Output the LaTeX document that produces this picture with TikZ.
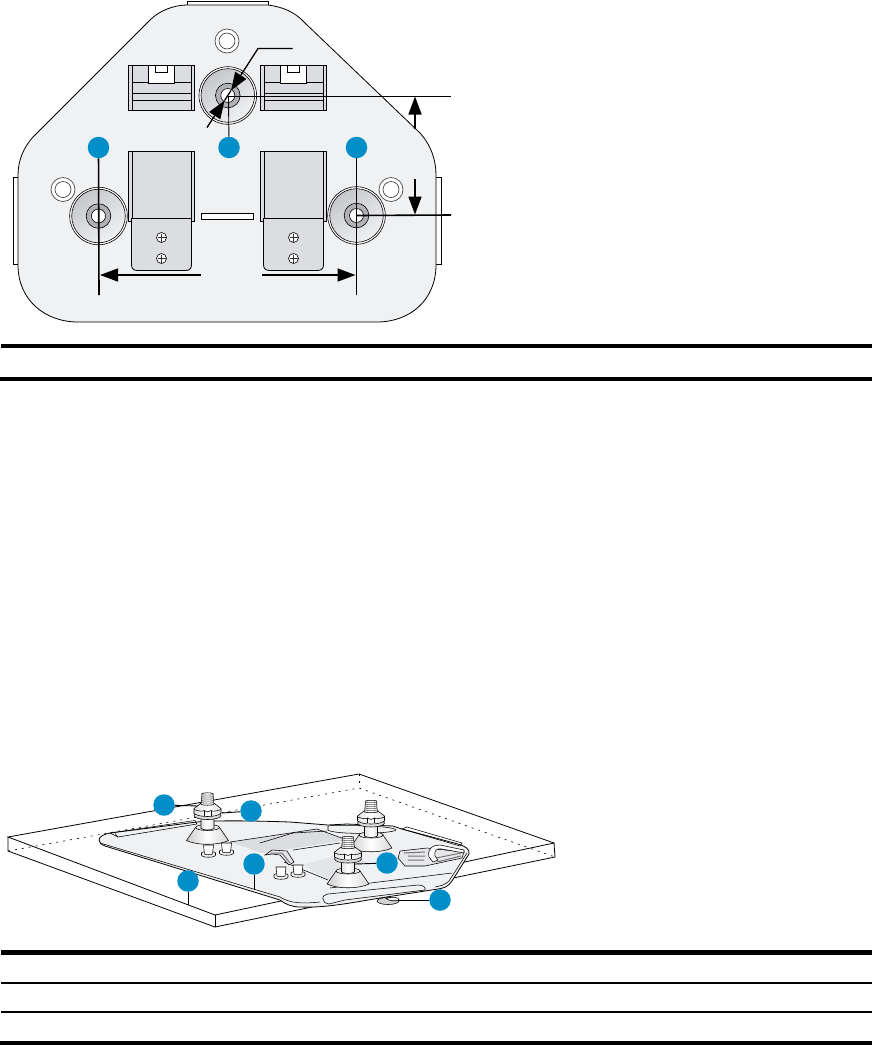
\documentclass[tikz,border=0pt]{standalone}
\usetikzlibrary{arrows.meta,calc}
\definecolor{plategray}{HTML}{F0F1F3}
\definecolor{partgray}{HTML}{DCDDE1}
\definecolor{callblue}{HTML}{008FC9}
\definecolor{midgray}{HTML}{B0B2B5}
\tikzset{
  callout/.style={circle,fill=callblue,minimum size=21.5pt,inner sep=0pt},
  outline/.style={draw=black,line width=0.8pt},
  fineline/.style={draw=black,line width=0.55pt},
  leader/.style={draw=black,line width=0.9pt},
  dimline/.style={draw=black,line width=0.9pt},
  dimthick/.style={draw=black,line width=1.6pt},
  headed/.style={-{Triangle[length=18pt,width=13pt]}},
  dimarrow/.style={draw=black,line width=1.6pt,headed},
  rulethick/.style={draw=black,line width=4pt},
  rulethin/.style={draw=black,line width=1.1pt},
  dotline/.style={draw=black,line width=0.6pt,dash pattern=on 2pt off 5pt},
  shadeA/.style={left color=black!20,right color=black!16,middle color=white},
  shadeB/.style={left color=black!12,right color=black!12,middle color=white},
  ring/.pic={
    \fill[white,draw=black!70,line width=0.7pt] (0,0) circle (12);
    \draw[black!80,line width=0.6pt] (0,0) circle (8);
  },
  washer/.pic={
    \draw[line width=0.6pt,fill=white] (0,0) circle (28.8);
    \draw[line width=0.6pt,shading=axis,top color=partgray!90!black,bottom color=plategray,shading angle=35] (0,0) circle (26.8);
    \draw[line width=0.6pt,fill=midgray] (0,0) circle (12.3);
    \draw[line width=0.6pt,fill=white] (0,0) circle (7);
  },
  screw/.pic={
    \draw[line width=0.6pt,fill=white] (0,0) circle (5);
    \draw[line width=0.6pt,black!80] (-4,0) -- (4,0) (0,-4) -- (0,4);
  },
  clip/.pic={
    \draw[outline,fill=partgray] (0,0) rectangle (66,45);
    \draw[outline] (3.5,0) -- (3.5,45) (62.5,0) -- (62.5,45);
    \draw[outline,fill=white] (20,0) rectangle (46,18);
    \draw[outline] (27,0) -- (27,7) -- (39,7) -- (39,0);
    \draw[outline] (3.5,17) -- (20,17) (46,17) -- (62.5,17);
    \draw[outline] (3.5,28) -- (62.5,28) (3.5,35) -- (62.5,35);
  },
  bracket/.pic={
    \draw[outline,fill=partgray] (0,0) rectangle (66,70);
    \draw[outline] (3.5,0) -- (3.5,70) (62.5,0) -- (62.5,70);
    \draw[outline,fill=partgray] (3,67) -- (63,67) -- (63,113)
      .. controls (63,117) and (61,119) .. (57,119) -- (9,119)
      .. controls (5,119) and (3,117) .. (3,113) -- cycle;
    \pic at (33,86) {screw};
    \pic at (33,107) {screw};
  },
  mount/.pic={
    % origin: centre of cone base
    \draw[fineline,shadeA] (-21,0) -- (-12,-13) -- (12,-13) -- (21,0)
      .. controls (11,5) and (-11,5) .. (-21,0) -- cycle;
    \draw[fineline,fill=black!8] (0,-13) ellipse (12 and 3);
    \draw[fineline,shadeB] (-6.5,-12) -- (-6.5,-24) -- (6.5,-24) -- (6.5,-12) .. controls (3,-10) and (-3,-10) .. (-6.5,-12) -- cycle;
    \draw[fineline,fill=black!14] (0,-25) ellipse (13.5 and 4);
    \draw[fineline,shadeB] (-13.5,-32) -- (-13.5,-27)
      .. controls (-8,-23) and (8,-23) .. (13.5,-27) -- (13.5,-32)
      -- (7,-37) -- (-7,-37) -- cycle;
    \draw[fineline] (-13.5,-31) .. controls (-8,-29) and (-5,-29) .. (-3.5,-30)
      .. controls (-1,-28) and (1,-28) .. (3.5,-30) .. controls (5,-29) and (8,-29) .. (13.5,-31);
    \draw[fineline] (-3.5,-30) -- (-3.5,-25) (3.5,-30) -- (3.5,-25);
    \draw[fineline,shadeB] (-6.5,-36) -- (-6,-40) -- (-5.5,-47) .. controls (-3,-48) and (3,-48) .. (5.5,-47)
       -- (6,-40) -- (6.5,-36) .. controls (3,-35) and (-3,-35) .. (-6.5,-36) -- cycle;
    \foreach \ty in {-38,-40,-42,-44,-46}
      \draw[line width=0.55pt,black!65] (-6,\ty) .. controls (-3,\ty+0.9) and (3,\ty+0.9) .. (6,\ty);
  },
  stud/.pic={
    \draw[fineline,fill=plategray] (-7,0) .. controls (-7,3) and (7,3) .. (7,0) -- (7,-2) .. controls (7,-4) and (-7,-4) .. (-7,-2) -- cycle;
    \draw[fineline,fill=white] (-4,-1) -- (-5,-10) -- (5,-10) -- (4,-1) .. controls (2,0) and (-2,0) .. (-4,-1) -- cycle;
  }
}
\begin{document}
\begin{tikzpicture}[x=1pt,y=-1pt]
\useasboundingbox (0,0) rectangle (872,1045);
% ---------- top plate
\draw[outline] (187,5) -- (187,1.3) -- (268,1.3) -- (268,5);
\draw[outline] (18,177) -- (13,177) -- (13,264) -- (18,264);
\draw[outline] (436,177) -- (441,177) -- (441,264) -- (436,264);
\draw[outline,fill=plategray] (187,5) -- (268,5) .. controls (283,7) and (295,12) .. (305,23)
  -- (420,133) .. controls (431,145) and (436,160) .. (436,175) -- (436,265)
  .. controls (436,300) and (410,322) .. (377,322) -- (78,322)
  .. controls (45,322) and (18,300) .. (18,265) -- (18,175)
  .. controls (18,160) and (24,147) .. (33,137) -- (150,20)
  .. controls (160,10) and (175,5) .. (187,5) -- cycle;
\pic at (227,41) {ring};
\pic at (63,189.5) {ring};
\pic at (391,189.5) {ring};
\pic at (128.5,65.5) {clip};
\pic at (260.5,65.5) {clip};
\pic at (128.5,151.5) {bracket};
\pic at (260.5,151.5) {bracket};
\draw[outline,fill=white] (201.5,213.5) rectangle (253.5,219.5);
\coordinate (holeT) at (227.8,95.5);
\coordinate (holeL) at (98.5,216);
\coordinate (holeR) at (356.5,215.5);
\pic at (holeT) {washer};
\pic at (holeL) {washer};
\pic at (holeR) {washer};
\node[callout] (cT1) at (98.5,147.5) {};
\node[callout] (cT2) at (229,147.5) {};
\node[callout] (cT3) at (356.5,147.5) {};
\coordinate (endL) at (99,295);
\coordinate (endR) at (356.5,295);
\coordinate (extT) at (451,96);
\coordinate (extR) at (451,215);
\draw[dimthick] (cT1) -- (endL);
\draw[dimline] (cT3) -- (endR);
\draw[dimline] (cT2) -- (228.5,96);
\draw[dimline] (228,96) -- (extT);
\draw[dimthick] (holeR) -- (extR);
\coordinate (dimLs) at (201,275);
\coordinate (dimLe) at (100,275);
\coordinate (dimRs) at (262,275);
\coordinate (dimRe) at (355.5,275);
\coordinate (upS) at (415,129);
\coordinate (upE) at (415,96.5);
\coordinate (dnS) at (415,179);
\coordinate (dnE) at (415,214.5);
\draw[dimarrow] (dimLs) -- (dimLe);
\draw[dimarrow] (dimRs) -- (dimRe);
\draw[dimarrow] (upS) -- (upE);
\draw[dimarrow] (dnS) -- (dnE);
\coordinate (diaA) at (292.5,48.5);
\coordinate (diaB) at (258,48.5);
\coordinate (diaC) at (207,127.5);
\coordinate (tipU) at ($(holeT)!6pt!(diaB)$);
\coordinate (tipL) at ($(holeT)!6pt!(diaC)$);
\draw[dimline,line width=1.3pt,headed] (diaA) -- (diaB) -- (tipU);
\draw[dimline,line width=1.3pt,headed] (diaC) -- (tipL);
\draw[dimline,line width=1.3pt] (tipU) -- (tipL);
% ---------- rules
\draw[rulethick] (1.3,346) -- (872,346);
\draw[rulethick] (0,379) -- (872,379);
\draw[rulethick,line width=5pt] (1.3,952.5) -- (872,952.5);
\draw[rulethin] (1.3,983) -- (872,983);
\draw[rulethin] (1.3,1012) -- (872,1012);
\draw[rulethick] (0,1043) -- (872,1043);
% ---------- board
\coordinate (bL) at (8,837);
\coordinate (bB) at (359,774);
\coordinate (bR) at (554,843);
\coordinate (bF) at (215,915);
\coordinate (bLb) at (8,851);
\coordinate (bBb) at (359,788);
\coordinate (bRb) at (555,857);
\coordinate (bFb) at (215,927);
\draw[outline] (bL) -- (bB) -- (bR) -- (bF) -- cycle;
\draw[outline] (bL) -- (bLb) -- (bFb) -- (bRb) -- (bR);
\draw[outline] (bF) -- (bFb);
\draw[dotline] (bLb) -- (bBb) -- (bRb);
\draw[dotline] (bB) -- (bBb);
% ---------- mounting plate
\draw[outline,fill=plategray] (99,840) .. controls (99,836) and (105,834) .. (110,833) -- (197,822)
  .. controls (220,820) and (260,821) .. (290,822) -- (328,825) -- (347,824) -- (393,826)
  -- (402,829) -- (458,844) .. controls (465,846) and (470,849) .. (469,854)
  -- (452,881) .. controls (448,887) and (444,888) .. (438,889) -- (380,898)
  .. controls (350,903) and (325,908) .. (300,907)
  .. controls (292,907) and (285,904) .. (280,900) -- (105,846) .. controls (101,844) and (99,843) .. (99,840) -- cycle;
\draw[fineline] (100,843) -- (280,897) .. controls (290,903) and (300,904) .. (320,902);
\draw[fineline] (467,853) -- (449,881) .. controls (445,885) and (440,886) .. (435,887);
% raised panels
\fill[partgray] (230,842) -- (317,829) -- (347,840) -- (262,853) -- cycle;
\draw[fineline] (230,842) -- (317,829) -- (347,840);
\fill[partgray!60!plategray] (303,865) -- (345,853) -- (368,862) -- (328,880) -- cycle;
\draw[fineline] (284,862) -- (328,880);
\draw[fineline] (293,850) -- (340,843);
\draw[fineline] (330,888) -- (452,873);
\draw[fineline] (260,843) -- (293,833) -- (327,831);
% slots
\draw[fineline,fill=plategray] (323,899) .. controls (322,896) and (325,895) .. (328,894) -- (418,885) .. controls (423,885) and (426,887) .. (425,890) -- (345,900) -- (329,904) .. controls (326,904) and (323,902) .. (323,899) -- cycle;
\draw[fineline] (402,829) -- (407,827) -- (462,843) -- (460,846) -- cycle;
\draw[fineline] (110,833) -- (195,820.5) -- (197,824) -- (118,837) -- cycle;
\draw[fineline] (115,833.5) -- (118,837);
% right bracket
\draw[fineline,fill=partgray!70!white] (400,851) -- (427,848) -- (464,852) -- (462,858) -- (425,866) -- (405,866) -- (398,858) -- cycle;
\draw[line width=1pt,black!55] (404,853) -- (425,852) (408,856) -- (425,856) (408,860) -- (424,860);
\draw[line width=1pt,black!55] (437,862) -- (461,856) (436,858) -- (461,853);
\draw[fineline,fill=white] (429,857) .. controls (427,848) and (433,845) .. (440,845) -- (464,850) -- (464,853) -- (442,849) .. controls (436,848) and (434,851) .. (435,856) -- (438,860) -- (433,862) -- cycle;
% left bracket
\draw[fineline,fill=partgray!70!white] (265,855) -- (272,850) -- (287,851) -- (294,862) -- (289,865) -- (280,855) -- (272,854) -- cycle;
\draw[line width=1pt,black!55] (270,853) -- (282,853) -- (290,863);
\pic at (208.5,855) {stud};
\pic at (226.5,853) {stud};
\pic at (281,877) {stud};
\pic at (298,875) {stud};
\draw[fineline,fill=plategray] (328,826) .. controls (338,824) and (396,826) .. (396,830) .. controls (392,834) and (335,835) .. (328,830) -- cycle;
\pic at (371,848) {mount};
\pic at (207.5,840.5) {mount};
\pic at (348,884) {mount};
% under foot
\draw[fineline,fill=midgray!60!white] (388,901) ellipse (11 and 3.5);
\draw[fineline,fill=plategray] (386,898.5) .. controls (391,896.5) and (400,897) .. (399,900) .. controls (395,901.5) and (389,901) .. (386,898.5) -- cycle;
% callouts
\node[callout] (c1) at (164,805) {};
\node[callout] (c2) at (251,811) {};
\node[callout] (c3) at (188,881) {};
\node[callout] (c4) at (254,864) {};
\node[callout] (c5) at (387,863) {};
\node[callout] (c6) at (440,900) {};
\coordinate (t1) at (198,806);
\coordinate (t2) at (222,813);
\coordinate (t3) at (188,905);
\coordinate (t4) at (254,890);
\coordinate (t5) at (355,864);
\coordinate (t6) at (398,900);
\draw[leader] (c1) -- (t1);
\draw[leader] (c2) -- (t2);
\draw[leader] (c3) -- (t3);
\draw[leader] (c4) -- (t4);
\draw[leader] (c5) -- (t5);
\draw[leader] (c6) -- (t6);
\end{tikzpicture}
\end{document}
